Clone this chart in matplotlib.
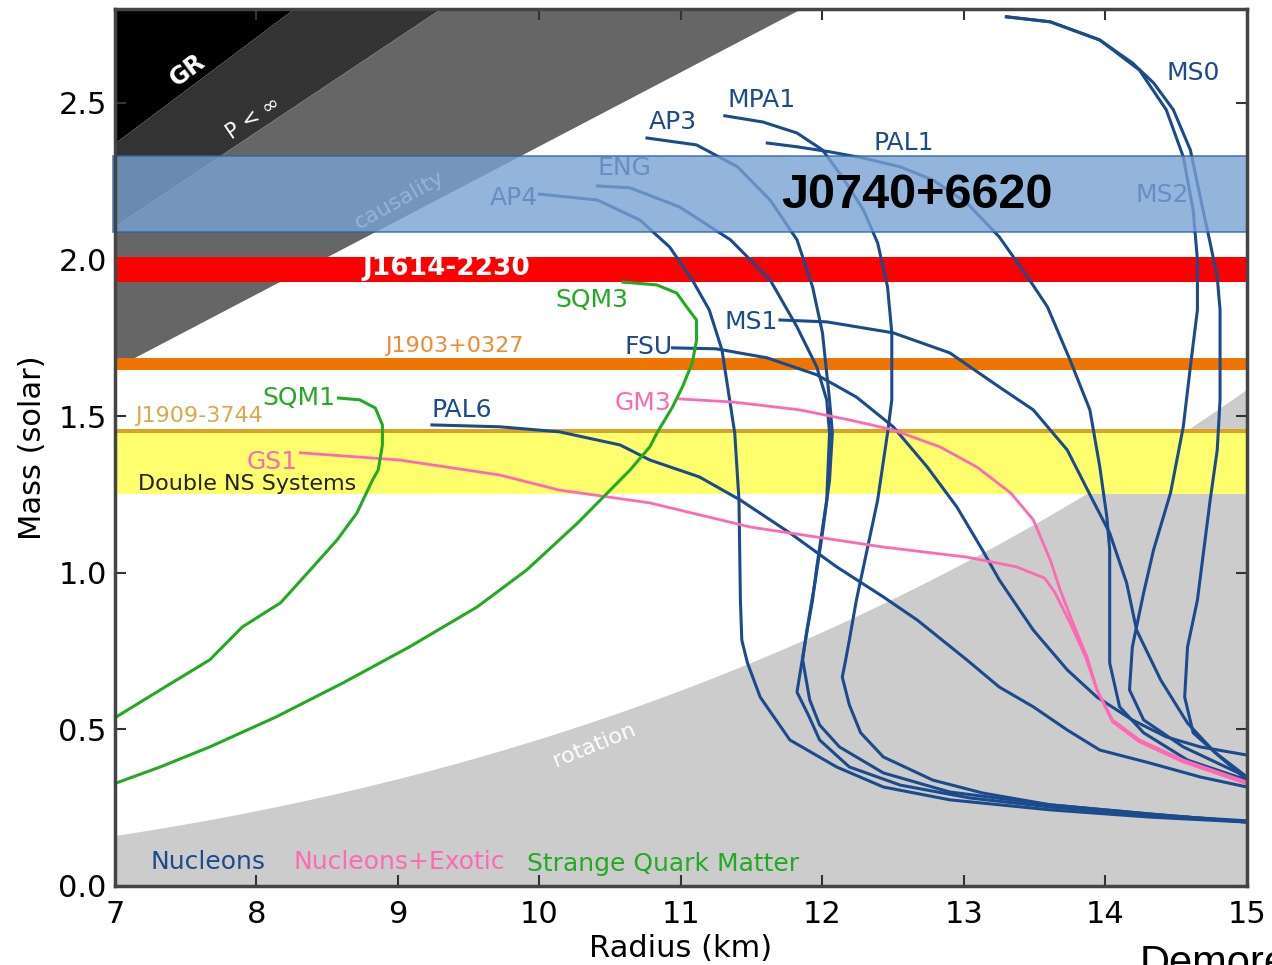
import numpy as np
import matplotlib.pyplot as plt

# Mass-radius tracks, radius in km and mass in solar masses
# nucleons
r_ap4 = [10.00, 10.41, 10.71, 10.92, 11.08, 11.20, 11.29, 11.38, 11.41, 11.42, 11.43, 11.47, 11.56, 11.77, 12.10, 12.43, 12.90, 13.61, 14.31, 15.0]
m_ap4 = [2.209, 2.190, 2.126, 2.040, 1.935, 1.839, 1.711, 1.446, 1.232, 0.913, 0.785, 0.712, 0.603, 0.466, 0.380, 0.316, 0.275, 0.243, 0.220, 0.204]

r_eng = [10.41, 10.64, 10.99, 11.35, 11.63, 11.82, 11.96, 12.03, 12.05, 12.03, 11.96, 11.93, 11.88, 11.82, 11.90, 11.98, 12.19, 12.55, 13.04, 13.61, 14.31, 15.0]
m_eng = [2.235, 2.229, 2.168, 2.063, 1.935, 1.785, 1.657, 1.552, 1.446, 1.232, 1.019, 0.913, 0.785, 0.619, 0.546, 0.466, 0.380, 0.322, 0.281, 0.252, 0.227, 0.208]

r_ap3 = [10.76, 11.11, 11.40, 11.63, 11.82, 11.93, 12.00, 12.05, 12.07, 12.05, 12.00, 11.95, 11.89, 11.86, 11.91, 11.98, 12.12, 12.43, 12.90, 13.61, 14.31, 15.0]
m_ap3 = [2.388, 2.366, 2.296, 2.190, 2.063, 1.913, 1.766, 1.552, 1.446, 1.296, 1.127, 0.977, 0.817, 0.722, 0.594, 0.514, 0.444, 0.361, 0.300, 0.259, 0.230, 0.204]

r_mpa1 = [11.31, 11.58, 11.82, 12.00, 12.14, 12.29, 12.39, 12.46, 12.49, 12.49, 12.46, 12.39, 12.29, 12.24, 12.19, 12.16, 12.14, 12.19, 12.27, 12.43, 12.78, 13.13, 13.61, 14.31, 15.0]
m_mpa1 = [2.459, 2.439, 2.404, 2.350, 2.264, 2.158, 2.053, 1.913, 1.766, 1.552, 1.446, 1.232, 1.019, 0.913, 0.785, 0.712, 0.667, 0.578, 0.489, 0.412, 0.338, 0.297, 0.259, 0.230, 0.204]

r_pal1 = [11.61, 11.82, 12.05, 12.29, 12.55, 12.78, 13.02, 13.25, 13.45, 13.59, 13.75, 13.89, 13.96, 14.01, 14.03, 14.03, 14.03, 14.10, 14.27, 14.58, 15.0]
m_pal1 = [2.372, 2.360, 2.344, 2.324, 2.296, 2.254, 2.181, 2.072, 1.944, 1.849, 1.679, 1.520, 1.338, 1.178, 1.073, 0.913, 0.712, 0.572, 0.489, 0.402, 0.338]

r_ms1 = [11.70, 12.03, 12.50, 12.90, 13.25, 13.49, 13.73, 13.91, 14.03, 14.15, 14.22, 14.39, 14.58, 14.77, 15.0]
m_ms1 = [1.807, 1.801, 1.766, 1.702, 1.593, 1.520, 1.392, 1.232, 1.127, 0.967, 0.817, 0.658, 0.520, 0.428, 0.348]

r_ms0 = [13.30, 13.61, 13.96, 14.19, 14.34, 14.48, 14.60, 14.67, 14.74, 14.79, 14.81, 14.81, 14.79, 14.74, 14.65, 14.58, 14.56, 14.62, 14.81, 15.0]
m_ms0 = [2.775, 2.759, 2.701, 2.628, 2.564, 2.478, 2.350, 2.200, 2.053, 1.944, 1.839, 1.552, 1.392, 1.232, 0.913, 0.763, 0.603, 0.489, 0.412, 0.338]

r_ms2 = [13.30, 13.61, 13.96, 14.24, 14.43, 14.55, 14.62, 14.65, 14.65, 14.60, 14.55, 14.46, 14.34, 14.27, 14.19, 14.17, 14.27, 14.55, 15.0]
m_ms2 = [2.775, 2.759, 2.701, 2.605, 2.478, 2.328, 2.158, 1.999, 1.839, 1.657, 1.466, 1.255, 1.073, 0.936, 0.763, 0.626, 0.530, 0.444, 0.348]

r_fsu = [10.94, 11.25, 11.61, 11.96, 12.24, 12.50, 12.74, 12.95, 13.13, 13.25, 13.49, 13.73, 13.94, 14.19, 14.43, 14.67, 15.0]
m_fsu = [1.718, 1.715, 1.686, 1.632, 1.561, 1.466, 1.338, 1.210, 1.073, 0.977, 0.817, 0.690, 0.603, 0.530, 0.476, 0.444, 0.418]

r_pal6 = [9.24, 9.72, 10.14, 10.57, 10.78, 11.13, 11.42, 11.77, 12.10, 12.43, 12.67, 13.02, 13.25, 13.49, 13.73, 13.96, 14.31, 14.67, 15.0]
m_pal6 = [1.472, 1.466, 1.450, 1.408, 1.360, 1.306, 1.232, 1.127, 1.019, 0.923, 0.849, 0.722, 0.635, 0.572, 0.498, 0.434, 0.393, 0.348, 0.316]

# nucleons + exotic
r_gm3 = [10.99, 11.37, 11.84, 12.19, 12.50, 12.83, 13.09, 13.33, 13.49, 13.61, 13.68, 13.77, 13.87, 13.94, 14.05, 14.24, 14.55, 15.0]
m_gm3 = [1.555, 1.545, 1.520, 1.488, 1.456, 1.402, 1.338, 1.255, 1.169, 1.041, 0.945, 0.840, 0.731, 0.626, 0.530, 0.466, 0.402, 0.332]

r_gs1 = [8.31, 9.01, 9.72, 10.14, 10.78, 11.49, 11.96, 12.43, 13.02, 13.37, 13.57, 13.64, 13.75, 13.86, 13.94, 14.05, 14.24, 14.55, 15.0]
m_gs1 = [1.383, 1.360, 1.312, 1.264, 1.223, 1.146, 1.114, 1.082, 1.050, 1.019, 0.983, 0.939, 0.840, 0.731, 0.626, 0.524, 0.460, 0.396, 0.326]

# strange quark matter
r_sqm1 = [8.58, 8.73, 8.84, 8.89, 8.89, 8.86, 8.82, 8.71, 8.57, 8.38, 8.17, 7.90, 7.67, 7.32, 7.01]
m_sqm1 = [1.558, 1.552, 1.526, 1.472, 1.408, 1.328, 1.296, 1.191, 1.105, 1.009, 0.904, 0.827, 0.722, 0.626, 0.540]

r_sqm3 = [10.59, 10.83, 10.97, 11.04, 11.11, 11.11, 11.08, 11.01, 10.94, 10.83, 10.78, 10.64, 10.50, 10.27, 9.91, 9.56, 9.08, 8.61, 8.14, 7.67, 7.32, 7.01]
m_sqm3 = [1.928, 1.919, 1.893, 1.849, 1.807, 1.743, 1.670, 1.593, 1.529, 1.446, 1.402, 1.328, 1.264, 1.159, 1.009, 0.891, 0.763, 0.648, 0.540, 0.444, 0.380, 0.329]

# measured pulsar masses (lower, upper)
j0740 = (2.088, 2.331)
j1614 = (1.928, 2.008)
j1903 = (1.648, 1.686)
j1909 = (1.445, 1.460)
double_ns = (1.250, 1.445)

# limits: M = R / k for GR, finite pressure and causality; spin limit M = c * (R/10)^3
k_gr, k_pinf, k_causal = 2.95, 3.32, 4.23
c_rot = 0.47

blue = '#1b4b8d'
pink = '#ff69b4'
green = '#22aa22'

fig = plt.figure(figsize=(12.72, 9.65), dpi=100)
ax = fig.add_axes([0.0904, 0.0819, 0.8899, 0.9088])

R = np.linspace(7, 15, 300)
ax.fill_between(R, R / k_gr, 2.8, color='black', lw=0, zorder=1)
ax.fill_between(R, R / k_pinf, R / k_gr, color='#333333', lw=0, zorder=1)
ax.fill_between(R, R / k_causal, R / k_pinf, color='#666666', lw=0, zorder=1)
ax.fill_between(R, 0, c_rot * (R / 10) ** 3, color='#cccccc', lw=0, zorder=1)

ax.text(7.51, 2.605, 'GR', color='white', fontsize=17, fontweight='bold', rotation=37,
        ha='center', va='center', zorder=1.5)
ax.text(7.97, 2.452, r'P < $\infty$', color='white', fontsize=15, rotation=34,
        ha='center', va='center', zorder=1.5)
ax.text(9.01, 2.19, 'causality', color='white', fontsize=16, rotation=29,
        ha='center', va='center', zorder=1.5)
ax.text(10.39, 0.45, 'rotation', color='white', fontsize=16, rotation=22,
        ha='center', va='center', zorder=1.5)

# pulsar mass bands
ax.axhspan(*double_ns, color='#ffff6e', lw=0, zorder=2)
ax.axhspan(*j1909, color='#d9a326', lw=0, zorder=2)
ax.axhspan(*j1903, color='#ee7600', lw=0, zorder=2)
ax.axhspan(*j1614, color='#ff0000', lw=0, zorder=2)

ax.text(8.75, 1.973, 'J1614-2230', color='white', fontsize=19, fontweight='bold',
        ha='left', va='center', zorder=4)
ax.text(8.91, 1.724, 'J1903+0327', color='#ee8a30', fontsize=16, ha='left', va='center', zorder=4)
ax.text(7.14, 1.501, 'J1909-3744', color='#d9a84a', fontsize=16, ha='left', va='center', zorder=4)
ax.text(7.16, 1.284, 'Double NS Systems', color='#222222', fontsize=16, ha='left', va='center', zorder=4)

nucleons = [(r_ap4, m_ap4), (r_eng, m_eng), (r_ap3, m_ap3), (r_mpa1, m_mpa1), (r_pal1, m_pal1),
            (r_ms1, m_ms1), (r_ms0, m_ms0), (r_ms2, m_ms2), (r_fsu, m_fsu), (r_pal6, m_pal6)]
exotic = [(r_gm3, m_gm3), (r_gs1, m_gs1)]
quark = [(r_sqm1, m_sqm1), (r_sqm3, m_sqm3)]

for r, m in nucleons:
    ax.plot(r, m, color=blue, lw=2.2, zorder=3, solid_joinstyle='round')
for r, m in exotic:
    ax.plot(r, m, color=pink, lw=2.0, zorder=3, solid_joinstyle='round')
for r, m in quark:
    ax.plot(r, m, color=green, lw=2.2, zorder=3, solid_joinstyle='round')

labels = [('MS0', 14.43, 2.596, blue), ('MPA1', 11.33, 2.51, blue), ('AP3', 10.77, 2.439, blue),
          ('PAL1', 12.36, 2.372, blue), ('ENG', 10.41, 2.293, blue), ('AP4', 9.65, 2.197, blue),
          ('MS2', 14.21, 2.206, blue), ('MS1', 11.31, 1.801, blue), ('FSU', 10.60, 1.721, blue),
          ('PAL6', 9.24, 1.52, blue), ('GM3', 10.53, 1.542, pink), ('GS1', 7.93, 1.354, pink),
          ('SQM3', 10.11, 1.871, green), ('SQM1', 8.04, 1.558, green)]
for name, x, y, col in labels:
    ax.text(x, y, name, color=col, fontsize=18, ha='left', va='center', zorder=4)

ax.text(7.25, 0.077, 'Nucleons', color=blue, fontsize=18, ha='left', va='center', zorder=4)
ax.text(8.26, 0.077, 'Nucleons+Exotic', color=pink, fontsize=18, ha='left', va='center', zorder=4)
ax.text(9.91, 0.070, 'Strange Quark Matter', color=green, fontsize=18, ha='left', va='center', zorder=4)

# J0740+6620 overlay
ax.axhspan(*j0740, xmin=-0.002, xmax=1, facecolor=(120/255, 161/255, 211/255), alpha=0.8,
           edgecolor='#2e63a8', lw=1.2, zorder=5, clip_on=False)
ax.text(12.67, 2.206, 'J0740+6620', color='black', fontsize=35, fontweight='bold',
        family='Liberation Sans', ha='center', va='center', zorder=6)

ax.set_xlim(7, 15)
ax.set_ylim(0, 2.8)
ax.set_xticks(range(7, 16))
ax.set_yticks([0.0, 0.5, 1.0, 1.5, 2.0, 2.5])
ax.set_yticklabels(['0.0', '0.5', '1.0', '1.5', '2.0', '2.5'])
ax.tick_params(direction='in', top=True, right=True, length=8, width=1.5, labelsize=22, pad=6,
               color='#333333')
ax.tick_params(axis='x', pad=10)
for s in ax.spines.values():
    s.set_linewidth(2.5)
    s.set_color('#444444')
    s.set_zorder(7)
ax.set_xlabel('Radius (km)', fontsize=22, labelpad=4)
ax.set_ylabel('Mass (solar)', fontsize=22, labelpad=8)

fig.text(1140 / 1272, 0.022, 'Demorest', fontsize=30, family='Liberation Sans', ha='left', va='top')

fig.savefig('out.png', dpi=100)
